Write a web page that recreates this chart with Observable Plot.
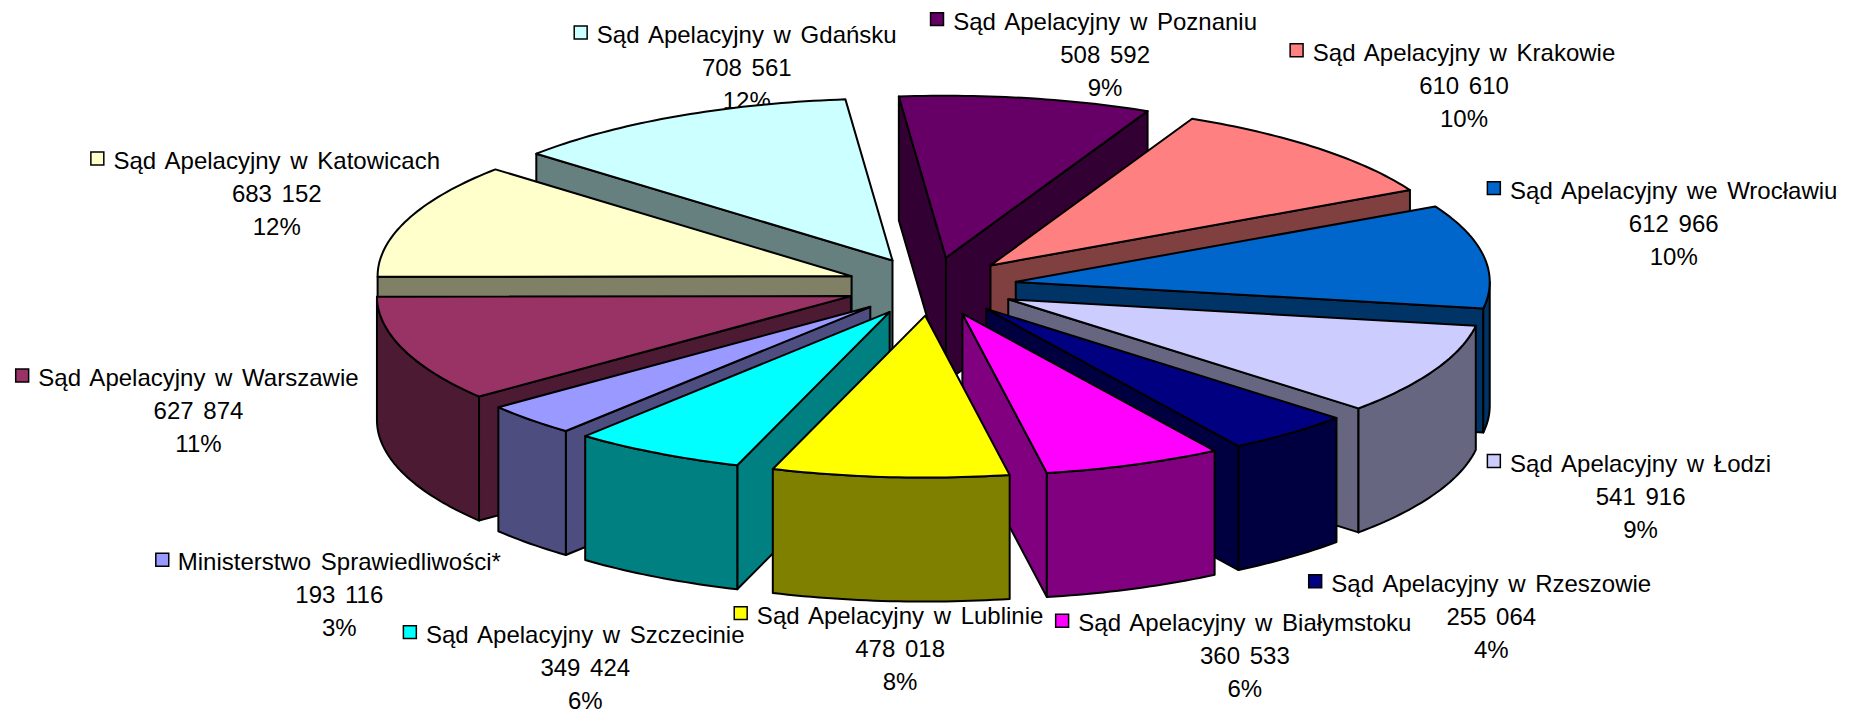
<!DOCTYPE html>
<html lang="pl">
<head>
<meta charset="utf-8">
<script src="https://cdn.jsdelivr.net/npm/d3@7"></script>
<script src="https://cdn.jsdelivr.net/npm/@observablehq/plot@0.6"></script>
<style>html,body{margin:0;padding:0;background:#fff;overflow:hidden}svg{display:block}</style>
</head>
<body>
<div id="chart"></div>
<script>
const categories = ["Sąd Apelacyjny w Poznaniu","Sąd Apelacyjny w Krakowie","Sąd Apelacyjny we Wrocławiu","Sąd Apelacyjny w Łodzi","Sąd Apelacyjny w Rzeszowie","Sąd Apelacyjny w Białymstoku","Sąd Apelacyjny w Lublinie","Sąd Apelacyjny w Szczecinie","Ministerstwo Sprawiedliwości*","Sąd Apelacyjny w Warszawie","Sąd Apelacyjny w Katowicach","Sąd Apelacyjny w Gdańsku"];
const values = [508592,610610,612966,541916,255064,360533,478018,349424,193116,627874,683152,708561];
const colors = ["#660066","#FF8080","#0066CC","#CCCCFF","#000080","#FF00FF","#FFFF00","#00FFFF","#9999FF","#993366","#FFFFCC","#CCFFFF"];
// label placement relative to each slice's rim midpoint
const labelShiftX = [79,146,190,206,201,111,10,-72,-191,-205,-131,71];
const labelShiftY = [-79,-98,-68,91,148,156,136,179,140,26,-61,-84];

const W = 1857, H = 716;
const cx = 931, cy = 286, a = 474, b = 162, depth = 124, explode = 0.18, startDeg = -5.7;
const fontFamily = "'Liberation Sans',Arial,sans-serif";
const fontSize = 24, lineGap = 33, wordGap = 3;

const total = d3.sum(values);
const rad = d => d * Math.PI / 180;
const fmt = d3.format(",");
const numText = v => fmt(v).replace(/,/g, " ");

let acc = startDeg;
const slices = values.map((v, i) => {
  const s = acc, e = acc + v / total * 360; acc = e;
  const m = (s + e) / 2;
  const ox = cx + explode * a * Math.sin(rad(m)), oy = cy - explode * b * Math.cos(rad(m));
  const pt = t => [ox + a * Math.sin(rad(t)), oy - b * Math.cos(rad(t))];
  return {i, v, s, e, m, ox, oy, pt, color: colors[i], name: categories[i]};
});

const rows = [];
let faceId = 0;
function addFace(poly, fill) {
  const id = faceId++;
  for (const [x, y] of poly) rows.push({face: id, x, y, fill});
}
const arc = (sl, s, e) => {
  const pts = [], n = Math.max(2, Math.ceil(e - s));
  for (let k = 0; k <= n; k++) pts.push(sl.pt(s + (e - s) * k / n));
  return pts;
};
const order = [...slices].sort((p, q) => Math.cos(rad(q.m)) - Math.cos(rad(p.m)));
for (const sl of order) {
  const dark = d3.rgb(sl.color); dark.r *= .5; dark.g *= .5; dark.b *= .5;
  const side = dark.formatHex();
  const apex = [sl.ox, sl.oy], mid = sl.pt(sl.m);
  for (const t of [sl.s, sl.e]) {
    const q = sl.pt(t);
    const yLine = apex[1] + (q[1] - apex[1]) * (mid[0] - apex[0]) / (q[0] - apex[0]);
    if (mid[1] < yLine) addFace([apex, q, [q[0], q[1] + depth], [apex[0], apex[1] + depth]], side);
  }
  const s = Math.max(sl.s, 90), e = Math.min(sl.e, 270);
  if (e - s > 0.5) {
    const top = arc(sl, s, e);
    addFace([...top, ...top.slice().reverse().map(([x, y]) => [x, y + depth])], side);
  }
  addFace([apex, ...arc(sl, sl.s, sl.e)], sl.color);
}

const ctx = document.createElement("canvas").getContext("2d");
ctx.font = `${fontSize}px ${fontFamily}`;
const labels = slices.map(sl => {
  const rimX = cx + (1 + explode) * a * Math.sin(rad(sl.m));
  const rimY = cy - (1 + explode) * b * Math.cos(rad(sl.m));
  const x = rimX + labelShiftX[sl.i], y = rimY + labelShiftY[sl.i];
  const w = ctx.measureText(sl.name).width + (sl.name.split(" ").length - 1) * wordGap;
  return {x, y, midY: y + lineGap, keyX: x - w / 2 - 15.5,
    color: sl.color,
    text: `${sl.name}\n${numText(sl.v)}\n${Math.round(sl.v / total * 100)}%`};
});

const chart = Plot.plot({
  width: W, height: H, margin: 0,
  x: {domain: [0, W], range: [0, W], axis: null},
  y: {domain: [0, H], range: [0, H], axis: null},
  color: {type: "identity"},
  style: {background: "white", wordSpacing: wordGap + "px"},
  marks: [
    Plot.text(labels, {x: "x", y: "midY", text: "text", fontFamily, fontSize, lineHeight: lineGap / fontSize, fill: "#000", textAnchor: "middle"}),
    Plot.dot(labels, {x: "keyX", y: "y", symbol: "square", r: 7.3, fill: "color", stroke: "#000", strokeWidth: 1.5}),
    Plot.line(rows, {x: "x", y: "y", z: "face", fill: "fill", stroke: "#000", strokeWidth: 2, strokeLinejoin: "round", curve: "linear-closed"})
  ]
});
document.getElementById("chart").appendChild(chart);
</script>
</body>
</html>
